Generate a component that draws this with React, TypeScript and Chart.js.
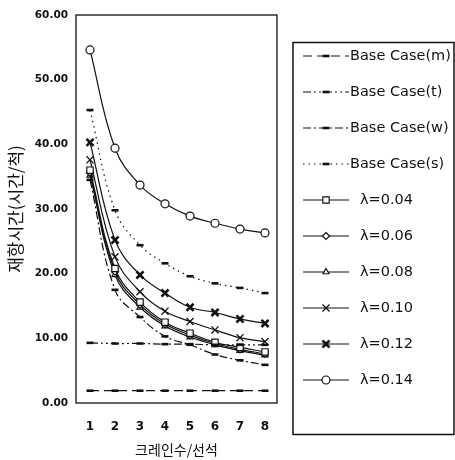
import React, { useEffect, useRef } from 'react';
import { Chart, registerables } from 'chart.js';

Chart.register(...registerables);

// ---- data ----
const categories = [1, 2, 3, 4, 5, 6, 7, 8];
const yTickValues = [0, 10, 20, 30, 40, 50, 60];

const baseCaseM = [1.9, 1.9, 1.9, 1.9, 1.9, 1.9, 1.9, 1.9];
const baseCaseT = [9.3, 9.2, 9.2, 9.1, 9.1, 9.0, 9.0, 9.0];
const baseCaseW = [34.5, 17.5, 13.3, 10.3, 9.0, 7.5, 6.6, 5.9];
const baseCaseS = [45.3, 29.8, 24.4, 21.6, 19.6, 18.5, 17.8, 17.0];
const lambda004 = [36.0, 20.8, 15.6, 12.5, 10.8, 9.4, 8.6, 7.9];
const lambda006 = [35.6, 20.3, 15.2, 12.2, 10.5, 9.2, 8.3, 7.6];
const lambda008 = [35.2, 19.8, 14.8, 11.9, 10.2, 9.0, 8.1, 7.4];
const lambda010 = [37.6, 22.6, 17.2, 14.2, 12.6, 11.3, 10.1, 9.5];
const lambda012 = [40.3, 25.2, 19.8, 17.0, 14.8, 14.0, 13.0, 12.3];
const lambda014 = [54.6, 39.4, 33.7, 30.8, 28.9, 27.8, 26.9, 26.3];

const seriesLabels = [
  'Base Case(m)',
  'Base Case(t)',
  'Base Case(w)',
  'Base Case(s)',
  'λ=0.04',
  'λ=0.06',
  'λ=0.08',
  'λ=0.10',
  'λ=0.12',
  'λ=0.14',
];
const seriesValues = [
  baseCaseM, baseCaseT, baseCaseW, baseCaseS,
  lambda004, lambda006, lambda008, lambda010, lambda012, lambda014,
];

const yTitle = '재항시간(시간/척)';
const xTitle = '크레인수/선석';

// ---- styles ----
const seriesStyles: any[] = [
  { dash: [9, 5], point: 'line', r: 3.5, pbw: 2.6 },
  { dash: [8, 3, 2, 3, 2, 3], point: 'line', r: 3.5, pbw: 2.6 },
  { dash: [8, 3, 2, 3], point: 'line', r: 3.5, pbw: 2.6 },
  { dash: [1.5, 4], point: 'line', r: 3.5, pbw: 2.6 },
  { dash: [], point: 'rect', r: 4.5, pbw: 1.2 },
  { dash: [], point: 'rectRot', r: 3.5, pbw: 1.2 },
  { dash: [], point: 'triangle', r: 3.5, pbw: 1.2 },
  { dash: [], point: 'crossRot', r: 5, pbw: 1.3 },
  { dash: [], point: 'crossRot', r: 5, pbw: 2.6 },
  { dash: [], point: 'circle', r: 4, pbw: 1.2 },
];

const INK = '#111';

function drawMarker(ctx: CanvasRenderingContext2D, style: string, x: number, y: number, r: number, bw: number) {
  ctx.save();
  ctx.setLineDash([]);
  ctx.lineWidth = bw;
  ctx.strokeStyle = INK;
  ctx.fillStyle = '#fff';
  ctx.beginPath();
  if (style === 'line') {
    ctx.moveTo(x - r, y);
    ctx.lineTo(x + r, y);
    ctx.stroke();
  } else if (style === 'rect') {
    const s = r * Math.SQRT1_2;
    ctx.rect(x - s, y - s, 2 * s, 2 * s);
    ctx.fill();
    ctx.stroke();
  } else if (style === 'rectRot') {
    ctx.moveTo(x, y - r);
    ctx.lineTo(x + r, y);
    ctx.lineTo(x, y + r);
    ctx.lineTo(x - r, y);
    ctx.closePath();
    ctx.fill();
    ctx.stroke();
  } else if (style === 'triangle') {
    ctx.moveTo(x, y - r);
    ctx.lineTo(x + r * Math.sin(Math.PI / 3), y + r / 2);
    ctx.lineTo(x - r * Math.sin(Math.PI / 3), y + r / 2);
    ctx.closePath();
    ctx.fill();
    ctx.stroke();
  } else if (style === 'crossRot') {
    const o = r * Math.SQRT1_2;
    ctx.moveTo(x - o, y - o);
    ctx.lineTo(x + o, y + o);
    ctx.moveTo(x + o, y - o);
    ctx.lineTo(x - o, y + o);
    ctx.stroke();
  } else {
    ctx.arc(x, y, r, 0, Math.PI * 2);
    ctx.fill();
    ctx.stroke();
  }
  ctx.restore();
}

const framePlugin = {
  id: 'frameAndLegend',
  afterDraw(chart: any) {
    const ctx: CanvasRenderingContext2D = chart.ctx;
    const a = chart.chartArea;
    ctx.save();
    ctx.strokeStyle = INK;
    ctx.setLineDash([]);
    ctx.lineWidth = 1.3;
    ctx.strokeRect(a.left, a.top, a.right - a.left, a.bottom - a.top);

    // legend box
    const boxLeft = a.right + 16;
    const boxTop = 42.5;
    const boxRight = 454;
    const boxBottom = 434.5;
    ctx.lineWidth = 1.5;
    ctx.strokeRect(boxLeft, boxTop, boxRight - boxLeft, boxBottom - boxTop);

    chart.data.datasets.forEach((ds: any, i: number) => {
      const st = seriesStyles[i];
      const y = 56 + 36 * i;
      const x0 = boxLeft + 10;
      const x1 = boxLeft + 56;
      ctx.save();
      ctx.setLineDash(st.dash);
      ctx.lineWidth = 1.2;
      ctx.strokeStyle = INK;
      ctx.beginPath();
      ctx.moveTo(x0, y);
      ctx.lineTo(x1, y);
      ctx.stroke();
      ctx.restore();
      drawMarker(ctx, st.point, (x0 + x1) / 2, y, st.r, st.pbw);
      ctx.fillStyle = INK;
      ctx.font = '14.5px "DejaVu Sans"';
      ctx.textBaseline = 'middle';
      ctx.textAlign = 'left';
      ctx.fillText(ds.label, i < 4 ? x1 + 1 : x1 + 11, y);
    });
    ctx.restore();
  },
};

export default function App() {
  const canvasRef = useRef<HTMLCanvasElement | null>(null);

  useEffect(() => {
    if (!canvasRef.current) return;
    const datasets = seriesValues.map((vals, i) => {
      const st = seriesStyles[i];
      return {
        label: seriesLabels[i],
        data: categories.map((c, j) => ({ x: c, y: vals[j] })),
        borderColor: INK,
        backgroundColor: '#fff',
        borderWidth: 1.2,
        borderDash: st.dash,
        tension: 0.4,
        fill: false,
        pointStyle: st.point,
        pointRadius: st.r,
        pointBorderWidth: st.pbw,
        pointBorderColor: INK,
        pointBackgroundColor: '#fff',
      };
    });

    const chart = new Chart(canvasRef.current, {
      type: 'line',
      data: { datasets },
      plugins: [framePlugin],
      options: {
        animation: false,
        responsive: false,
        events: [],
        layout: { padding: { left: 0, right: 178, top: 15, bottom: 0 } },
        plugins: {
          legend: { display: false },
          tooltip: { enabled: false },
        },
        scales: {
          x: {
            type: 'linear',
            min: 0.44,
            max: 8.48,
            afterBuildTicks: (scale: any) => {
              scale.ticks = categories.map((v) => ({ value: v }));
            },
            afterFit: (scale: any) => {
              scale.height = 57;
            },
            grid: { display: false, drawTicks: false },
            border: { display: false },
            ticks: {
              color: INK,
              padding: 17,
              font: { family: 'DejaVu Sans', size: 12, weight: 'bold' },
              callback: (v: any) => String(v),
            },
            title: {
              display: true,
              text: xTitle,
              color: INK,
              padding: { top: 0, bottom: 2 },
              font: { family: 'Noto Sans CJK KR', size: 14 },
            },
          },
          y: {
            type: 'linear',
            min: 0,
            max: 60,
            afterBuildTicks: (scale: any) => {
              scale.ticks = yTickValues.map((v) => ({ value: v }));
            },
            afterFit: (scale: any) => {
              scale.width = 76;
            },
            grid: { display: false, drawTicks: false },
            border: { display: false },
            ticks: {
              color: INK,
              padding: 8,
              font: { family: 'DejaVu Sans', size: 10.5, weight: 'bold' },
              callback: (v: any) => Number(v).toFixed(2),
            },
            title: {
              display: true,
              text: yTitle,
              color: INK,
              padding: { top: 5, bottom: 0 },
              font: { family: 'Noto Sans CJK KR', size: 17 },
            },
          },
        },
      } as any,
    });
    return () => chart.destroy();
  }, []);

  return (
    <div style={{ position: 'fixed', left: 0, top: 0, width: 455, height: 460, background: '#fff' }}>
      <canvas ref={canvasRef} width={455} height={460} />
    </div>
  );
}
